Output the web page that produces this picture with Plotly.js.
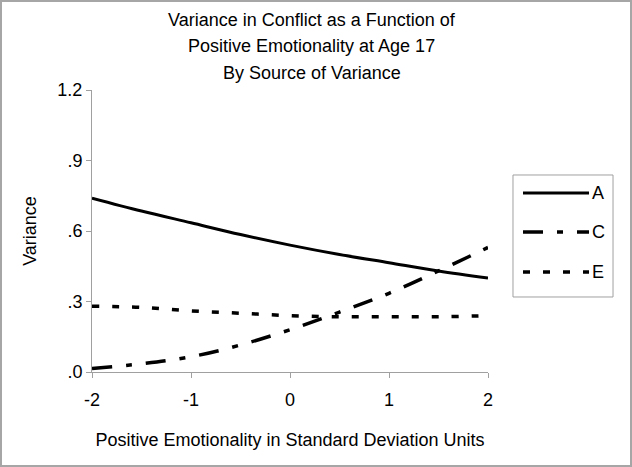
<!DOCTYPE html>
<html>
<head>
<meta charset="utf-8">
<script src="https://cdn.plot.ly/plotly-3.0.1.min.js"></script>
<style>
html,body{margin:0;padding:0;background:#fff;}
#chart{width:632px;height:467px;box-sizing:border-box;border:2px solid #a6a6a6;}
</style>
</head>
<body>
<div id="chart"></div>
<script>
var xVals = [-2, -1.5, -1, -0.5, 0, 0.5, 1, 1.5, 2];
var seriesA = [0.74, 0.685, 0.635, 0.585, 0.54, 0.50, 0.465, 0.43, 0.40];
var seriesC = [0.015, 0.035, 0.065, 0.115, 0.18, 0.255, 0.335, 0.43, 0.53];
var seriesE = [0.28, 0.275, 0.26, 0.25, 0.24, 0.235, 0.235, 0.235, 0.24];
var seriesNames = ['A', 'C', 'E'];
var yTickVals = [0, 0.3, 0.6, 0.9, 1.2];
var yTickText = ['.0', '.3', '.6', '.9', '1.2'];
var xTickVals = [-2, -1, 0, 1, 2];
var xTickText = ['-2', '-1', '0', '1', '2'];
var titleLines = ['Variance in Conflict as a Function of', 'Positive Emotionality at Age 17', 'By Source of Variance'];

var font = 'Liberation Sans, Arial, sans-serif';
var lineStyles = [
  {color: '#000', width: 3, shape: 'spline'},
  {color: '#000', width: 3.5, shape: 'spline', dash: '20px,14px,6px,14px'},
  {color: '#000', width: 3.5, shape: 'spline', dash: '7px,13px'}
];
var seriesVals = [seriesA, seriesC, seriesE];
var traces = seriesVals.map(function (vals, i) {
  return {x: xVals, y: vals, name: seriesNames[i], mode: 'lines',
          line: lineStyles[i], showlegend: false};
});

// title lines
var titleY = [1.248, 1.155, 1.060];
var annotations = titleLines.map(function (t, i) {
  return {text: t, xref: 'paper', yref: 'paper', x: 0.555, y: titleY[i],
          xanchor: 'center', yanchor: 'middle', showarrow: false,
          font: {family: font, size: 18, color: '#000'}};
});

// custom legend (box, sample lines, labels)
var legX0 = 1.0631, legX1 = 1.3157, legYTop = 0.6986, legYBot = 0.266;
var sampleX0 = 1.0884, sampleX1 = 1.2551, labelX = 1.258;
var entryY = [0.6348, 0.4965, 0.3546];
var shapes = [{
  type: 'rect', xref: 'paper', yref: 'paper', x0: legX0, x1: legX1, y0: legYBot, y1: legYTop,
  line: {color: '#a0a0a0', width: 1}, fillcolor: 'rgba(0,0,0,0)'
}];
seriesNames.forEach(function (n, i) {
  shapes.push({type: 'line', xref: 'paper', yref: 'paper', x0: sampleX0, x1: sampleX1,
               y0: entryY[i], y1: entryY[i],
               line: {color: '#000', width: lineStyles[i].width, dash: lineStyles[i].dash || 'solid'}});
  annotations.push({text: n, xref: 'paper', yref: 'paper', x: labelX, y: entryY[i],
                    xanchor: 'left', yanchor: 'middle', showarrow: false,
                    font: {family: font, size: 18, color: '#000'}});
});

var layout = {
  width: 628, height: 463,
  paper_bgcolor: '#fff', plot_bgcolor: '#fff',
  margin: {l: 90, r: 142, t: 88, b: 93},
  font: {family: font, size: 18, color: '#000'},
  annotations: annotations,
  shapes: shapes,
  showlegend: false,
  xaxis: {
    range: [-2, 2], tickvals: xTickVals, ticktext: xTickText,
    showgrid: false, zeroline: false, showline: true, linecolor: '#a0a0a0', linewidth: 1,
    ticks: 'outside', ticklen: 5, tickcolor: '#a0a0a0', ticklabelstandoff: 6,
    tickfont: {family: font, size: 18}, fixedrange: true,
    title: {text: 'Positive Emotionality in Standard Deviation Units', font: {family: font, size: 18}, standoff: 24}
  },
  yaxis: {
    range: [0, 1.2], tickvals: yTickVals, ticktext: yTickText,
    showgrid: false, zeroline: false, showline: true, linecolor: '#a0a0a0', linewidth: 1,
    ticks: 'outside', ticklen: 5, tickcolor: '#a0a0a0',
    tickfont: {family: font, size: 18}, fixedrange: true,
    title: {text: 'Variance', font: {family: font, size: 18}, standoff: 16}
  }
};

Plotly.newPlot('chart', traces, layout, {displayModeBar: false, staticPlot: true});
</script>
</body>
</html>
